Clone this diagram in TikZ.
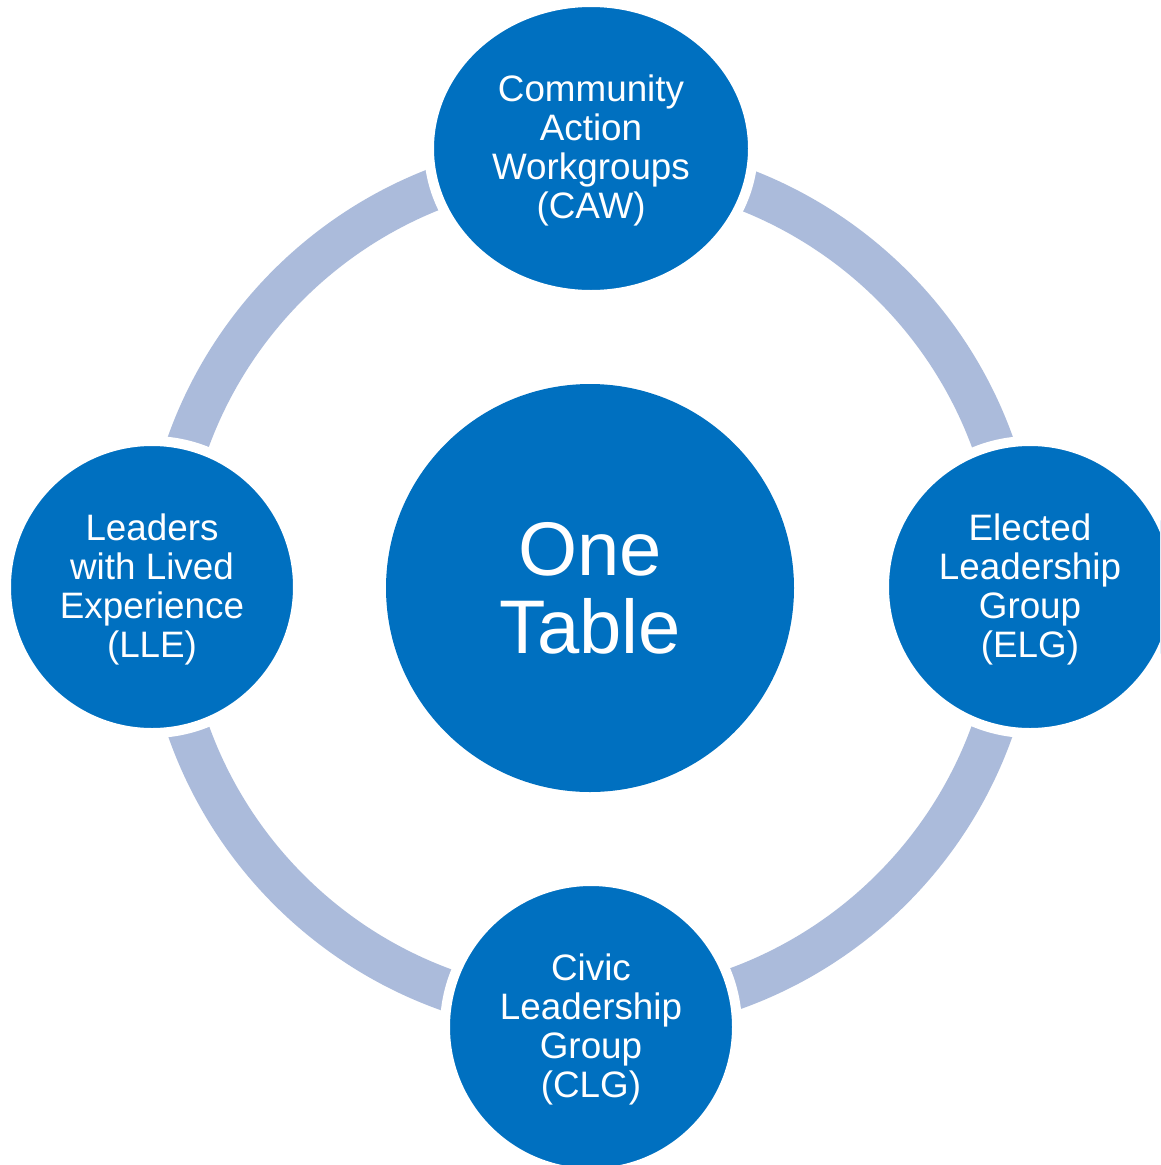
\documentclass[tikz,border=0pt]{standalone}
\usepackage{fontspec}
\setmainfont{Liberation Sans}
\usetikzlibrary{shapes.geometric,backgrounds}
\definecolor{mainblue}{HTML}{0070C0}
\definecolor{ringblue}{HTML}{ABBBDB}
\begin{document}
\begin{tikzpicture}[x=1pt,y=-1pt,
  sat/.style={circle, fill=mainblue, draw=white, line width=10pt, minimum size=292pt, inner sep=0pt},
  sattext/.style={text=white, align=center, inner sep=0pt, yshift=-2.5pt, font=\fontsize{36.8}{39}\selectfont},
  hub/.style={circle, fill=mainblue, minimum size=408pt, inner sep=0pt, align=center, text=white, font=\fontsize{76}{78}\selectfont},
  ringarc/.style={draw=ringblue, line width=42pt}]
\useasboundingbox (0,0) rectangle (1160,1165);
\clip (0,0) rectangle (1160,1165);
\node[hub] (one) at (590,588) {One\\Table};
\node[sat, label={[sattext]center:{Leaders\\with Lived\\Experience\\(LLE)}}] (lle) at (152,587) {};
\node[sat, label={[sattext]center:{Elected\\Leadership\\Group\\(ELG)}}] (elg) at (1030,587) {};
\node[sat, label={[sattext]center:{Civic\\Leadership\\Group\\(CLG)}}] (clg) at (591,1027) {};
\node[sat, ellipse, minimum width=324pt, minimum height=293pt, label={[sattext, yshift=0.5pt]center:{Community\\Action\\Workgroups\\(CAW)}}] (caw) at (591,148.5) {};
\begin{scope}[on background layer]
  \fill[white] (0,0) rectangle (1160,1165);
  \draw[ringarc] ([xshift=11pt]lle.center) arc[start angle=180, end angle=90, radius=427pt];
  \draw[ringarc] ([yshift=-12.5pt]caw.center) arc[start angle=90, end angle=0, radius=427pt];
  \draw[ringarc] ([xshift=-13pt]elg.center) arc[start angle=0, end angle=-90, radius=427pt];
  \draw[ringarc] ([yshift=12pt]clg.center) arc[start angle=-90, end angle=-180, radius=427pt];
\end{scope}
\end{tikzpicture}
\end{document}
